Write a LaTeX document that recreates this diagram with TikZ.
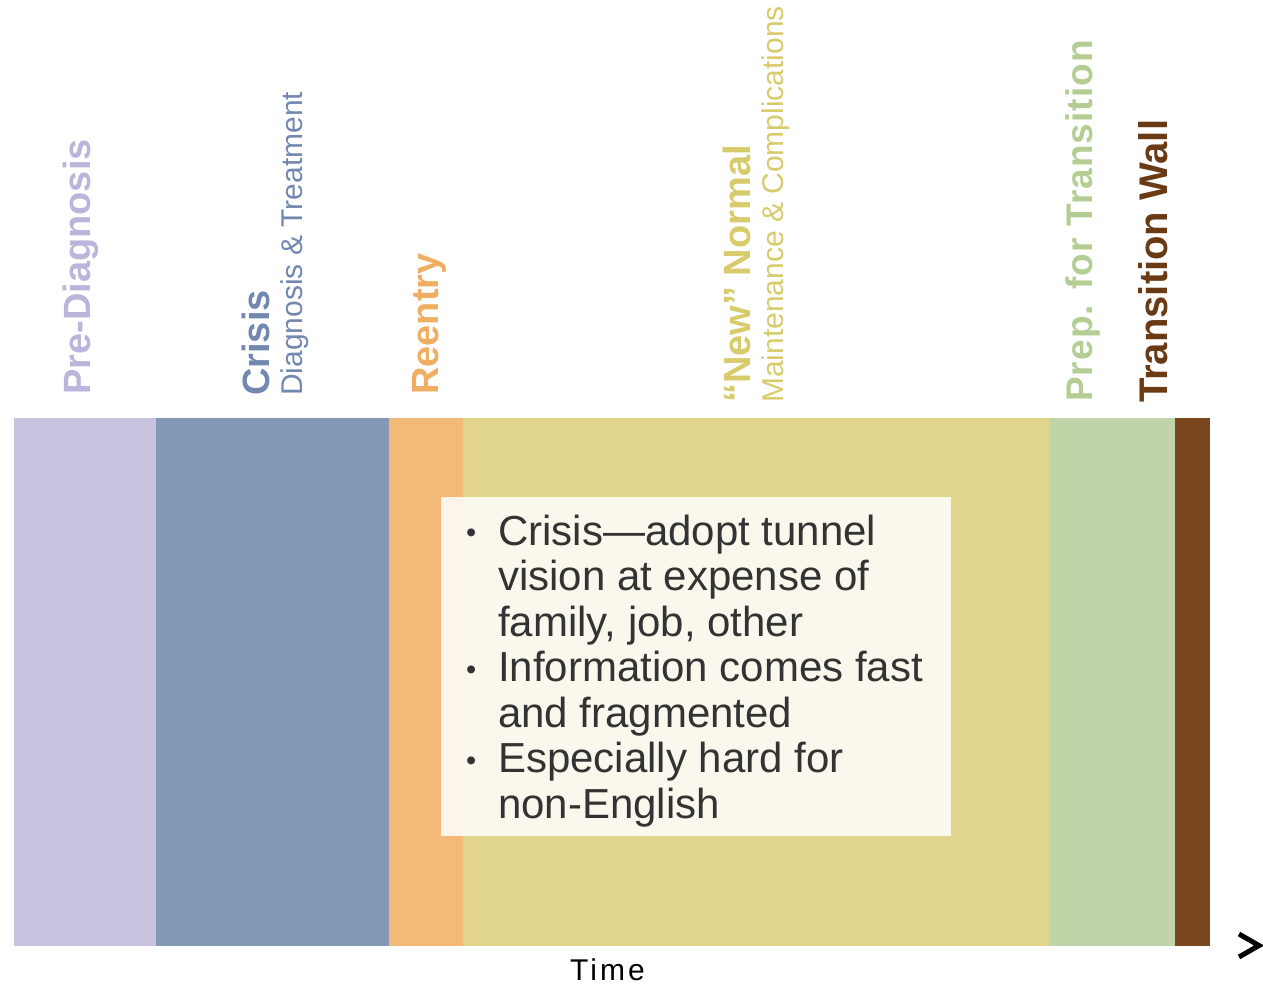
\documentclass[tikz,border=0pt]{standalone}
\usepackage{fontspec}
\setmainfont{Liberation Sans}
\definecolor{cPre}{HTML}{C9C3E0}
\definecolor{cCri}{HTML}{8499B6}
\definecolor{cRee}{HTML}{F3B977}
\definecolor{cNew}{HTML}{E1D58B}
\definecolor{cPrep}{HTML}{C0D4A7}
\definecolor{cWall}{HTML}{7B471E}
\definecolor{tPre}{HTML}{BDB4DB}
\definecolor{tCri}{HTML}{7388B0}
\definecolor{tRee}{HTML}{F0AE62}
\definecolor{tNew}{HTML}{D8CB6C}
\definecolor{tPrep}{HTML}{B4CD93}
\definecolor{tWall}{HTML}{6A3A14}
\definecolor{txt}{HTML}{333333}
\tikzset{
  title/.style={rotate=90, anchor=base west, inner sep=0pt, font=\fontsize{38}{38}\selectfont\bfseries},
  subtitle/.style={rotate=90, anchor=base west, inner sep=0pt, font=\fontsize{30}{30}\selectfont},
}
\newcommand{\bul}{\llap{\raisebox{2.5pt}{\fontsize{29}{29}\selectfont •}\hspace{22pt}}}
\begin{document}
\begin{tikzpicture}[x=1pt,y=-1pt]
\useasboundingbox (0,0) rectangle (1263,984);
% bands
\fill[cPre]  (14,418)   rectangle (156,946);
\fill[cCri]  (156,418)  rectangle (389,946);
\fill[cRee]  (389,418)  rectangle (463,946);
\fill[cNew]  (463,418)  rectangle (1049,946);
\fill[cPrep] (1049,418) rectangle (1175,946);
\fill[cWall] (1175,418) rectangle (1210,946);
% labels
\node[title, text=tPre] (lpre) at (90,395) {Pre-Diagnosis};
\node[title, text=tCri] (lcri) at (269,396) {Crisis};
\node[subtitle, text=tCri] (scri) at (302,396) {Diagnosis \& Treatment};
\node[title, text=tRee] (lree) at (438,395) {Reentry};
\node[title, text=tNew] (lnew) at (750,403) {“New” Normal};
\node[subtitle, text=tNew] (snew) at (783,403) {Maintenance \& Complications};
\node[title, text=tPrep, font=\fontsize{37}{37}\selectfont\bfseries] (lprep) at (1092,402) {\addfontfeatures{LetterSpace=3}Prep. for Transition};
\node[title, text=tWall, font=\fontsize{40}{40}\selectfont\bfseries] (lwall) at (1167,403) {Transition Wall};
% text box
\fill[white, opacity=0.85] (441,497) rectangle (951,836);
\node[anchor=base west, inner sep=0pt, align=left, text=txt,
      font=\fontsize{42}{45.5}\selectfont] (items) at (498,818)
  {\bul Crisis—adopt tunnel\\
   vision at expense of\\
   family, job, other\\
   \bul Information comes fast\\
   and fragmented\\
   \bul Especially hard for\\
   non-English};
% time axis
\node[anchor=base, inner sep=0pt, font=\fontsize{30}{30}\selectfont, text=black] (time) at (607.5,980) {\addfontfeatures{LetterSpace=10}Time};
\draw[line width=5pt, black, line join=miter] (1239,934) -- (1259,945.5) -- (1239,957);
\end{tikzpicture}
\end{document}
